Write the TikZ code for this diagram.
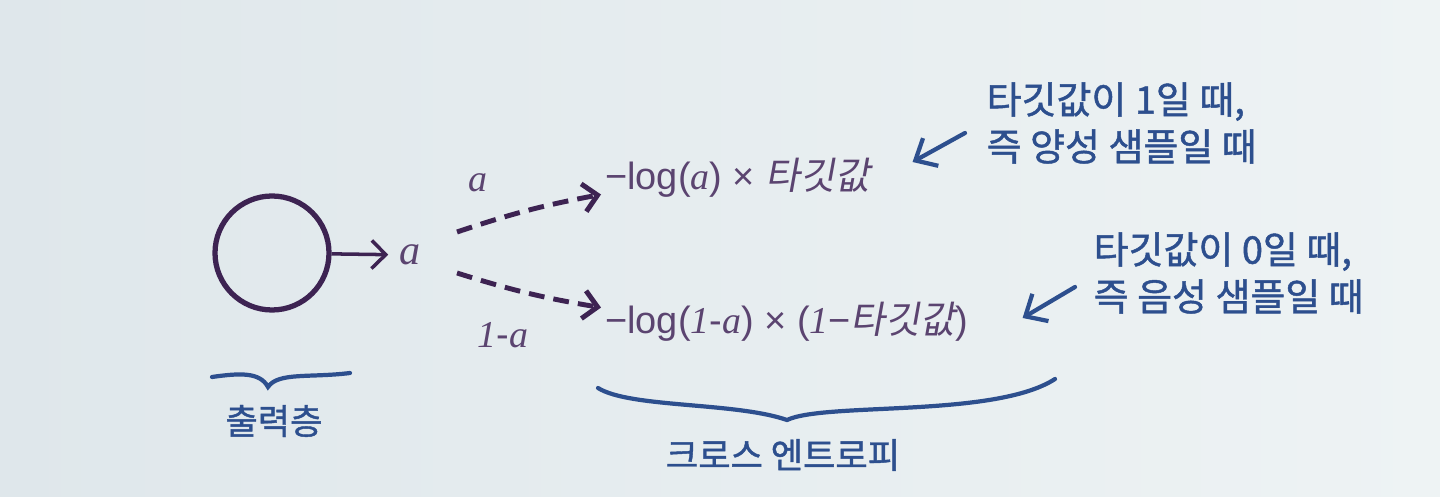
\documentclass[tikz,border=0pt]{standalone}
\usepackage{fontspec}
\setmainfont{Liberation Sans}
\newfontfamily\tms{Liberation Serif}
\newfontfamily\kr[FakeBold=1.2]{Noto Sans CJK KR}
\newfontfamily\krsl[FakeSlant=0.18]{Noto Sans CJK KR}
\usetikzlibrary{arrows.meta,calc}
\definecolor{paper}{HTML}{DFE7EB}
\definecolor{paperlt}{HTML}{EEF3F4}
\definecolor{ink}{HTML}{3D2352}
\definecolor{plum}{HTML}{5B4470}
\definecolor{penblue}{HTML}{2D4F8E}
\newcommand{\va}{{\tms\itshape a}}
\newcommand{\one}{{\tms\itshape 1}}
\newcommand{\tgt}{{\krsl 타깃값}}

\tikzset{
  formula/.style={text=plum, font=\fontsize{10.8}{13}\selectfont, inner sep=1pt},
  flow/.style={ink, line width=1pt, -{Straight Barb[length=4pt,width=8pt]}},
  guess/.style={ink, line width=1.4pt, dash pattern=on 4.5pt off 2.6pt, -{Straight Barb[length=4pt,width=8pt]}},
  penline/.style={penblue, line width=1.2pt, line cap=round},
  note/.style={text=penblue, font=\kr\fontsize{10.8}{13.4}\selectfont, align=left, inner sep=0pt},
  brlabel/.style={note, font=\kr\fontsize{10}{12}\selectfont},
}

\begin{document}
\begin{tikzpicture}[x=0.1mm,y=-0.1mm]
  \shade[left color=paper, right color=paperlt] (0,0) rectangle (1440,497);
  \useasboundingbox (0,0) rectangle (1440,497);
  % output neuron and its value
  \node[circle, draw=ink, line width=1.5pt, minimum size=11.4mm, inner sep=0pt] (neuron) at (272,253) {};
  \node[formula, font=\fontsize{12}{14}\selectfont, inner sep=3pt] (aval) at (410,255) {\va};
  \draw[flow] (neuron) -- (aval);
  \coordinate (upfork) at (457,232);
  \coordinate (downfork) at (457,273);
  % the two terms
  \node[formula, anchor=west] (posterm) at (601,178) {−log(\va) × \tgt};
  \node[formula, anchor=west] (negterm) at (601,322) {−log(\one-\va) × (\one−\tgt)};
  \draw[guess] (upfork) to[bend left=4] (posterm);
  \draw[guess] (downfork) to[bend right=4] (negterm);
  \node[formula] (plab) at (478,183) {\va};
  \node[formula] (nlab) at (503,335) {\one-\va};
  % handwritten notes
  \node[note, anchor=west] (posnote) at (986,123) {타깃값이 1일 때,\\즉 양성 샘플일 때};
  \node[note, anchor=west] (negnote) at (1093,273) {타깃값이 0일 때,\\즉 음성 샘플일 때};
  \draw[penline, -{Straight Barb[length=5pt,width=9pt]}] ($(posnote.west)+(-21,10)$) -- ($(posterm.east)+(38,-16)$);
  \draw[penline, -{Straight Barb[length=5pt,width=9pt]}] ($(negnote.west)+(-18,14)$) -- ($(negterm.east)+(50,-4)$);
  % braces
  \draw[penline] (212,377) .. controls (240,373) and (260,372) .. (268,387) .. controls (278,372) and (310,378) .. (350,373);
  \node[brlabel] (outlabel) at (274,421) {출력층};
  \draw[penline] (598,388) .. controls (630,408) and (735,402) .. (787,420) .. controls (825,402) and (995,418) .. (1055,379);
  \node[brlabel] (celabel) at (783,455) {크로스 엔트로피};
\end{tikzpicture}
\end{document}
